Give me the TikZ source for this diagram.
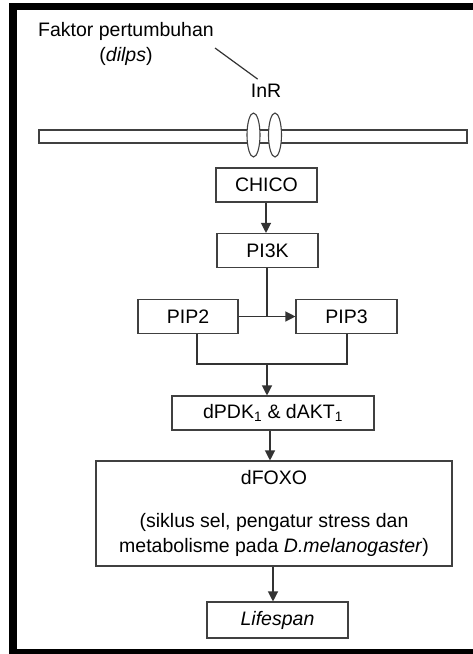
\documentclass[tikz,border=0pt]{standalone}
\usepackage{fontspec}
\setmainfont{Liberation Sans}
\usetikzlibrary{shapes.geometric, arrows.meta, positioning, calc}

\begin{document}
\begin{tikzpicture}[x=1pt, y=-1pt,
        protein/.style={rectangle, draw=black!75, line width=1.1pt, fill=white, minimum height=34pt, inner sep=0pt, align=center},
        receptor/.style={ellipse, draw=black!75, line width=1.1pt, fill=white, minimum width=13pt, minimum height=44pt, inner sep=0pt},
        arrow/.style={-{Triangle[length=10pt, width=10pt]}, line width=1.2pt, draw=black!80},
        link/.style={line width=1.2pt, draw=black!80},
        every node/.style={font=\fontsize{19.5}{25}\selectfont}
    ]
        % Page area and cut-off frame
        \useasboundingbox[fill=white] (0,0) rectangle (473,654);
        \clip (0,0) rectangle (473,654);
        \draw[line width=7.5pt, line join=miter] (490,6.5) -| (13,653) -- (490,653);

        % Ligand and receptor in the membrane
        \node[inner sep=0pt, align=center] (growth) at (126,44) {Faktor pertumbuhan\\(\textit{dilps})};
        \node[inner sep=0pt] (inr) at (266,91) {InR};
        \node[rectangle, draw=black!75, line width=1.1pt, minimum width=428pt, minimum height=13pt, inner sep=0pt] (membrane) at (253,136.5) {};
        \node[receptor] (inrA) at (253.5,135) {};
        \node[receptor] (inrB) at (275,135) {};
        \draw[link] ([xshift=1pt, yshift=-4pt]growth.east) -- ([xshift=7pt, yshift=5pt]inr.north west);

        % Signalling cascade
        \node[protein, minimum width=101pt] (chico) at (266.5,185) {CHICO};
        \node[protein, minimum width=101pt] (pi3k) at (267.5,250.5) {PI3K};
        \node[protein, minimum width=100pt] (pip2) at (188,316.5) {PIP2};
        \node[protein, minimum width=101pt] (pip3) at (346.5,316.5) {PIP3};
        \node[protein, minimum width=202pt] (dpdk) at (273,413) {dPDK\textsubscript{1} \& dAKT\textsubscript{1}};
        \node[protein, minimum width=356pt, minimum height=105pt] (dfoxo) at (274,513.5) {dFOXO\\[18pt](siklus sel, pengatur stress dan\\metabolisme pada \textit{D.melanogaster})};
        \node[protein, minimum width=141pt, minimum height=36pt] (lifespan) at (277.5,620) {\textit{Lifespan}};

        % Connections
        \draw[arrow] ([xshift=-0.5pt]chico.south) -- ([xshift=-1.5pt]pi3k.north);
        \draw[link] ([xshift=-0.5pt]pi3k.south) -- ([xshift=-0.5pt]pi3k.south |- pip2.east);
        \draw[arrow] (pip2.east) -- (pip3.west);
        \coordinate (join) at (267,364);
        \draw[link] ([xshift=9pt]pip2.south) |- (join) -| ([xshift=0.5pt]pip3.south);
        \draw[arrow] (join) -- (join |- dpdk.north);
        \draw[arrow] ([xshift=-3pt]dpdk.south) -- ([xshift=-4pt]dfoxo.north);
        \draw[arrow] ([xshift=-1pt]dfoxo.south) -- ([xshift=-4.5pt]lifespan.north);
    \end{tikzpicture}
\end{document}
